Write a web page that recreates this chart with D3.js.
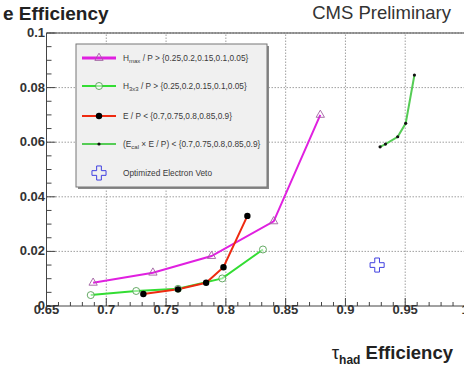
<!DOCTYPE html>
<html>
<head>
<meta charset="utf-8">
<script src="https://cdn.jsdelivr.net/npm/d3@7"></script>
<style>
  body { margin: 0; background: #fff; }
  svg { display: block; font-family: "Liberation Sans", Arial, sans-serif; }
</style>
</head>
<body>
<div id="chart"></div>
<script>
// series
const hmaxX = [0.689, 0.739, 0.788, 0.840, 0.879];
const hmaxY = [0.0085, 0.0122, 0.0183, 0.031, 0.070];
const h3x3X = [0.687, 0.725, 0.760, 0.797, 0.831];
const h3x3Y = [0.0040, 0.0055, 0.0063, 0.0101, 0.0207];
const epX = [0.731, 0.760, 0.7835, 0.798, 0.818];
const epY = [0.0044, 0.0061, 0.0085, 0.0142, 0.033];
const ecalX = [0.929, 0.9335, 0.9437, 0.9504, 0.9577];
const ecalY = [0.0583, 0.0593, 0.062, 0.0669, 0.0846];
const vetoX = [0.9265];
const vetoY = [0.015];

const xTicks = [0.65, 0.7, 0.75, 0.8, 0.85, 0.9, 0.95, 1];
const yTicks = [0, 0.02, 0.04, 0.06, 0.08, 0.1];
const legendLabels = [
  { main: 'H', sub: 'max', rest: ' / P > {0.25,0.2,0.15,0.1,0.05}' },
  { main: 'H', sub: '3x3', rest: ' / P > {0.25,0.2,0.15,0.1,0.05}' },
  { main: 'E / P < {0.7,0.75,0.8,0.85,0.9}', sub: '', rest: '' },
  { main: '(E', sub: 'cal', rest: ' \u00d7 E / P) < {0.7,0.75,0.8,0.85,0.9}' },
  { main: 'Optimized  Electron Veto', sub: '', rest: '' }
];

const width = 464, height = 369;
const svg = d3.select('#chart').append('svg')
  .attr('width', width)
  .attr('height', height);

const x = d3.scaleLinear().domain([0.65, 1]).range([46.5, 465]);
const y = d3.scaleLinear().domain([0, 0.1]).range([306, 33]);

// grid
const grid = svg.append('g');
grid.selectAll('.gx').data(xTicks.slice(1)).enter().append('line')
  .attr('x1', d => x(d)).attr('x2', d => x(d))
  .attr('y1', y(0)).attr('y2', y(0.1))
  .attr('stroke', '#888').attr('stroke-width', 0.8).attr('stroke-dasharray', '1.5,1.5');
grid.selectAll('.gy').data(yTicks.slice(1)).enter().append('line')
  .attr('x1', x(0.65)).attr('x2', width)
  .attr('y1', d => y(d)).attr('y2', d => y(d))
  .attr('stroke', '#888').attr('stroke-width', 0.8).attr('stroke-dasharray', '1.5,1.5');

// frame
svg.append('path')
  .attr('d', `M${width},${y(0.1)}H${x(0.65)}V${y(0)}H${width}`)
  .attr('fill', 'none').attr('stroke', '#444').attr('stroke-width', 1);

// ticks (pointing inward)
const xMinor = d3.range(0.65, 1.0001, 0.01);
svg.append('g').selectAll('line').data(xMinor).enter().append('line')
  .attr('x1', d => x(d)).attr('x2', d => x(d))
  .attr('y1', y(0)).attr('y2', (d, i) => y(0) - (i % 5 === 0 ? 8 : 4))
  .attr('stroke', '#444');
const yMinor = d3.range(0, 0.1001, 0.005);
svg.append('g').selectAll('line').data(yMinor).enter().append('line')
  .attr('x1', x(0.65)).attr('x2', (d, i) => x(0.65) + (i % 4 === 0 ? 9 : 5))
  .attr('y1', d => y(d)).attr('y2', d => y(d))
  .attr('stroke', '#444');

// tick labels
svg.append('g').selectAll('text').data(xTicks).enter().append('text')
  .attr('x', d => x(d)).attr('y', 314)
  .attr('text-anchor', 'middle')
  .attr('font-size', 13).attr('font-weight', 'bold').attr('fill', '#333')
  .text(d => d3.format('')(d));
svg.append('g').selectAll('text').data(yTicks).enter().append('text')
  .attr('x', 45).attr('y', d => y(d) + 4)
  .attr('text-anchor', 'end')
  .attr('font-size', 13).attr('font-weight', 'bold').attr('fill', '#333')
  .text(d => d3.format('')(d));

// titles
svg.append('text').attr('x', 3).attr('y', 20)
  .attr('font-size', 19).attr('font-weight', 'bold').attr('fill', '#222')
  .text('e Efficiency');
svg.append('text').attr('x', 451).attr('y', 19).attr('text-anchor', 'end')
  .attr('font-size', 18.5).attr('fill', '#333')
  .text('CMS Preliminary');
const xt = svg.append('text').attr('x', 453).attr('y', 359).attr('text-anchor', 'end')
  .attr('font-size', 18.5).attr('font-weight', 'bold').attr('fill', '#222');
xt.append('tspan').attr('font-weight', 'normal').text('\u03c4');
xt.append('tspan').attr('font-size', 12).attr('dy', 5).text('had');
xt.append('tspan').attr('dy', -5).text(' Efficiency');

// series
const line = d3.line().x(d => x(d[0])).y(d => y(d[1]));
const zip = (a, b) => a.map((v, i) => [v, b[i]]);

const series = [
  { pts: zip(hmaxX, hmaxY), color: '#e020e0', marker: 'tri' },
  { pts: zip(h3x3X, h3x3Y), color: '#33dd33', marker: 'circ' },
  { pts: zip(epX, epY), color: '#ee2a10', marker: 'dot' },
  { pts: zip(ecalX, ecalY), color: '#55cc55', marker: 'small' }
];

function drawMarker(g, type, cx, cy) {
  if (type === 'tri') {
    g.append('path')
      .attr('d', d3.symbol().type(d3.symbolTriangle).size(30)())
      .attr('transform', `translate(${cx},${cy})`)
      .attr('fill', 'none').attr('stroke', '#a060a0').attr('stroke-width', 0.9);
  } else if (type === 'circ') {
    g.append('circle').attr('cx', cx).attr('cy', cy).attr('r', 3.5)
      .attr('fill', '#fff').attr('fill-opacity', 0.5)
      .attr('stroke', '#55a055').attr('stroke-width', 0.9);
  } else if (type === 'dot') {
    g.append('circle').attr('cx', cx).attr('cy', cy).attr('r', 3.2).attr('fill', '#000');
  } else if (type === 'small') {
    g.append('circle').attr('cx', cx).attr('cy', cy).attr('r', 1.6).attr('fill', '#111');
  } else if (type === 'cross') {
    g.append('path')
      .attr('d', d3.symbol().type(d3.symbolCross).size(110)())
      .attr('transform', `translate(${cx},${cy})`)
      .attr('fill', 'none').attr('stroke', '#4040e0').attr('stroke-width', 1);
  }
}

const sg = svg.append('g');
series.forEach(s => {
  sg.append('path').attr('d', line(s.pts))
    .attr('fill', 'none').attr('stroke', s.color).attr('stroke-width', 2);
});
series.forEach(s => {
  s.pts.forEach(p => drawMarker(sg, s.marker, x(p[0]), y(p[1])));
});
zip(vetoX, vetoY).forEach(p => drawMarker(sg, 'cross', x(p[0]), y(p[1])));

// legend
const lg = svg.append('g');
lg.append('rect').attr('x', 78).attr('y', 46).attr('width', 191).attr('height', 143)
  .attr('fill', '#888');
lg.append('rect').attr('x', 76).attr('y', 44).attr('width', 191).attr('height', 143)
  .attr('fill', '#f0f0f0').attr('stroke', '#777').attr('stroke-width', 1);
const rowY = [58, 86, 116, 144, 173];
const legendMarkers = ['tri', 'circ', 'dot', 'small', 'cross'];
legendLabels.forEach((lab, i) => {
  const ry = rowY[i];
  if (i < 4) {
    lg.append('line').attr('x1', 82).attr('x2', 116).attr('y1', ry).attr('y2', ry)
      .attr('stroke', series[i].color).attr('stroke-width', i === 0 ? 3 : 2);
  }
  drawMarker(lg, legendMarkers[i], 99, ry);
  const t = lg.append('text').attr('x', 123).attr('y', ry + 3)
    .attr('font-size', 8.3).attr('fill', '#3a3a3a');
  t.append('tspan').text(lab.main);
  if (lab.sub) {
    t.append('tspan').attr('font-size', 6).attr('dy', 2).text(lab.sub);
    t.append('tspan').attr('dy', -2).text(lab.rest);
  }
});
</script>
</body>
</html>
